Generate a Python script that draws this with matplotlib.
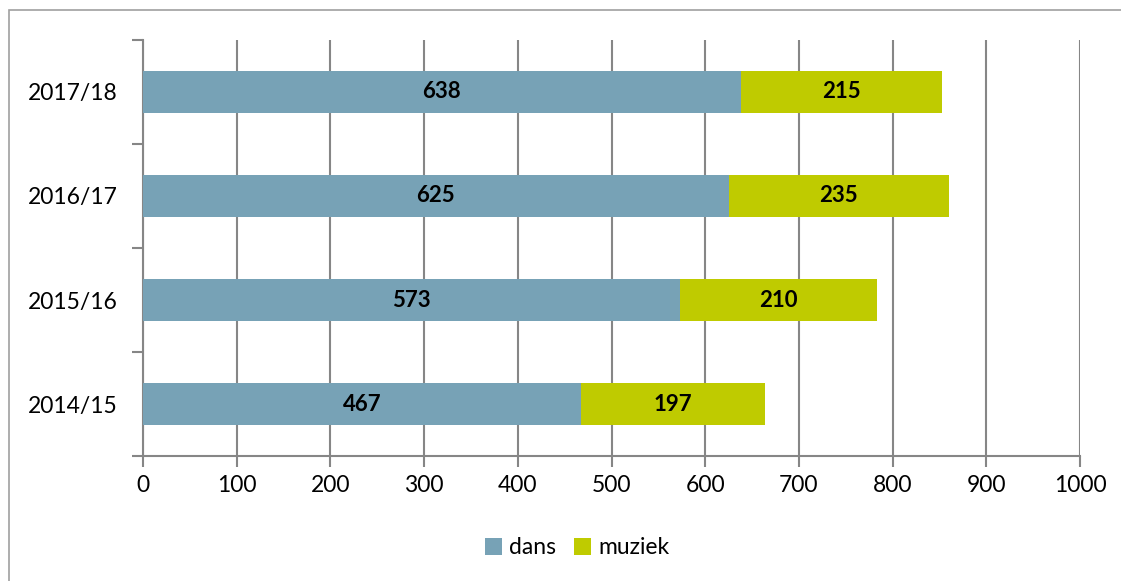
import matplotlib.pyplot as plt
from matplotlib.patches import Rectangle
import numpy as np

seasons = ["2014/15", "2015/16", "2016/17", "2017/18"]
dans = [467, 573, 625, 638]
muziek = [197, 210, 235, 215]

plt.rcParams['font.family'] = ['Lato', 'DejaVu Sans']

col_dans = '#77a2b6'
col_muziek = '#bfcb00'
grid_col = '#868686'

fig = plt.figure(figsize=(11.21, 5.81), dpi=100)
ax = fig.add_axes([0.1276, 0.2151, 0.8358, 0.7161])

# outer frame (runs off the right and bottom edge)
fig.patches.append(Rectangle((9 / 1121, -0.1), 1.2, 1 - 10 / 581 + 0.1,
                             transform=fig.transFigure, fill=False,
                             edgecolor='#a0a0a0', linewidth=1.2))

y = np.arange(len(seasons))
h = 0.4
ax.barh(y, dans, height=h, color=col_dans, label='dans', zorder=3)
ax.barh(y, muziek, left=dans, height=h, color=col_muziek, label='muziek', zorder=3)

for i in range(len(seasons)):
    ax.text(dans[i] / 2, y[i], str(dans[i]), ha='center', va='center',
            fontsize=16, fontweight='bold', zorder=4)
    ax.text(dans[i] + muziek[i] / 2, y[i], str(muziek[i]), ha='center', va='center',
            fontsize=16, fontweight='bold', zorder=4)

ax.set_xlim(0, 1000)
ax.set_ylim(-0.5, len(seasons) - 0.5)
ax.set_xticks(np.arange(0, 1001, 100))
ax.xaxis.grid(True, color=grid_col, linewidth=1.5, zorder=0)

# category labels in the middle, tick marks at the boundaries
ax.set_yticks(y)
ax.set_yticklabels(seasons)
ax.set_yticks(np.arange(-0.5, len(seasons), 1), minor=True)
ax.tick_params(axis='y', which='major', length=0, pad=18.5, labelsize=16.5)
ax.tick_params(axis='y', which='minor', length=8, width=1.5, color=grid_col)
ax.tick_params(axis='x', length=8, width=1.5, color=grid_col, labelsize=16.5, pad=6)

for s in ['top', 'right']:
    ax.spines[s].set_visible(False)
for s in ['left', 'bottom']:
    ax.spines[s].set_color(grid_col)
    ax.spines[s].set_linewidth(1.5)

fig.legend(loc='center', bbox_to_anchor=(577 / 1121, 1 - 548 / 581), ncol=2,
           frameon=False, fontsize=16.5, handlelength=0.75, handleheight=0.75,
           handletextpad=0.3, columnspacing=0.8)

fig.savefig('out.png', dpi=100)
